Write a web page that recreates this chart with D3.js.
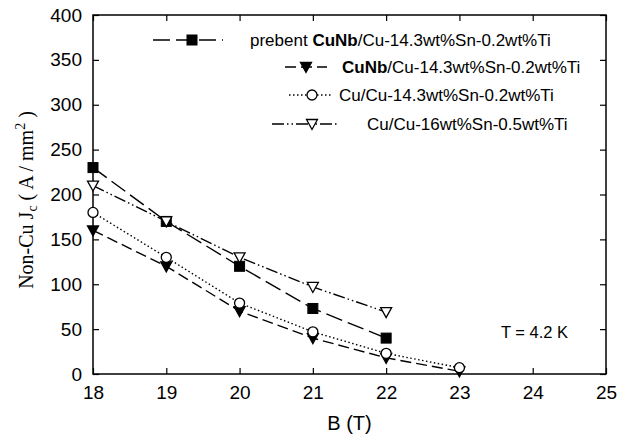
<!DOCTYPE html>
<html>
<head>
<meta charset="utf-8">
<script src="https://cdn.jsdelivr.net/npm/d3@7/dist/d3.min.js"></script>
<style>
  body { margin: 0; background: #fff; }
  text { font-family: Arial, "Liberation Sans", sans-serif; }
</style>
</head>
<body>
<div id="chart"></div>
<script>
var xTicks = [18, 19, 20, 21, 22, 23, 24, 25];
var yTicks = [0, 50, 100, 150, 200, 250, 300, 350, 400];

var prebentB  = [18, 19, 20, 21, 22];
var prebentJc = [230, 170, 120, 73, 40];

var cunbB  = [18, 19, 20, 21, 22, 23];
var cunbJc = [160, 120, 70, 40, 18, 3];

var cuB  = [18, 19, 20, 21, 22, 23];
var cuJc = [180, 130, 79, 47, 23, 7];

var cu16B  = [18, 19, 20, 21, 22];
var cu16Jc = [210, 170, 130, 97, 69];

var width = 620, height = 436;
var margin = {left: 93, right: 14, top: 15, bottom: 62};
var font = 'Arial, "Liberation Sans", sans-serif';

var svg = d3.select('#chart').append('svg')
    .attr('width', width)
    .attr('height', height);

var x = d3.scaleLinear().domain([18, 25]).range([margin.left, width - margin.right]);
var y = d3.scaleLinear().domain([0, 400]).range([height - margin.bottom, margin.top]);

// frame
svg.append('rect')
  .attr('x', x(18)).attr('y', y(400))
  .attr('width', x(25) - x(18)).attr('height', y(0) - y(400))
  .attr('fill', 'none').attr('stroke', '#000').attr('stroke-width', 1.5);

// axes, ticks pointing inward
svg.append('g')
  .attr('transform', 'translate(0,' + y(0) + ')')
  .call(d3.axisBottom(x).tickValues(xTicks).tickSize(-6).tickPadding(11.5).tickFormat(d3.format('d')))
  .call(function(g) {
    g.select('.domain').remove();
    g.selectAll('line').attr('stroke-width', 1.2);
    g.selectAll('text').attr('font-size', 19).attr('font-family', font);
  });

svg.append('g')
  .attr('transform', 'translate(0,' + y(400) + ')')
  .call(d3.axisTop(x).tickValues(xTicks).tickSize(-6).tickFormat(''))
  .call(function(g) { g.select('.domain').remove(); g.selectAll('line').attr('stroke-width', 1.2); });

svg.append('g')
  .attr('transform', 'translate(' + x(18) + ',0)')
  .call(d3.axisLeft(y).tickValues(yTicks).tickSize(-6).tickPadding(11))
  .call(function(g) {
    g.select('.domain').remove();
    g.selectAll('line').attr('stroke-width', 1.2);
    g.selectAll('text').attr('font-size', 19).attr('font-family', font);
  });

svg.append('g')
  .attr('transform', 'translate(' + x(25) + ',0)')
  .call(d3.axisRight(y).tickValues(yTicks).tickSize(-6).tickFormat(''))
  .call(function(g) { g.select('.domain').remove(); g.selectAll('line').attr('stroke-width', 1.2); });

// axis titles
svg.append('text')
  .attr('x', (x(18) + x(25)) / 2).attr('y', 430)
  .attr('text-anchor', 'middle').attr('font-size', 20)
  .text('B (T)');

var yl = svg.append('text')
  .attr('transform', 'translate(33,200) rotate(-90)')
  .attr('text-anchor', 'middle')
  .attr('font-size', 20)
  .style('font-family', '"Liberation Serif", "Times New Roman", serif');
yl.append('tspan').text('Non-Cu J');
yl.append('tspan').attr('font-size', 14).attr('dy', 4).text('c');
yl.append('tspan').attr('dy', -4).text(' ( A / mm');
yl.append('tspan').attr('font-size', 14).attr('dy', -8).text('2');
yl.append('tspan').attr('dy', 8).text(' )');

svg.append('text')
  .attr('x', 568).attr('y', 338)
  .attr('text-anchor', 'end').attr('font-size', 16.5)
  .text('T = 4.2 K');

var series = [
  {b: prebentB, jc: prebentJc, dash: '17,6', marker: 'square', fill: '#000'},
  {b: cunbB, jc: cunbJc, dash: '11,5', marker: 'tri', fill: '#000'},
  {b: cuB, jc: cuJc, dash: '1.5,2.5', marker: 'circle', fill: '#fff'},
  {b: cu16B, jc: cu16Jc, dash: '12,3,1.5,3,1.5,3', marker: 'tri', fill: '#fff'}
];

var line = d3.line().x(function(d) { return x(d[0]); }).y(function(d) { return y(d[1]); });

function drawMarker(g, type, fill, cx, cy) {
  if (type === 'square') {
    g.append('rect').attr('x', cx - 5).attr('y', cy - 5).attr('width', 10).attr('height', 10)
      .attr('fill', fill).attr('stroke', '#000').attr('stroke-width', 1);
  } else if (type === 'circle') {
    g.append('circle').attr('cx', cx).attr('cy', cy).attr('r', 5)
      .attr('fill', fill).attr('stroke', '#000').attr('stroke-width', 1.3);
  } else {
    g.append('path')
      .attr('d', 'M' + (cx - 5.5) + ',' + (cy - 4.5) + 'L' + (cx + 5.5) + ',' + (cy - 4.5) + 'L' + cx + ',' + (cy + 5.5) + 'Z')
      .attr('fill', fill).attr('stroke', '#000').attr('stroke-width', 1.3);
  }
}

series.forEach(function(s) {
  var pts = s.b.map(function(b, i) { return [b, s.jc[i]]; });
  svg.append('path')
    .datum(pts)
    .attr('d', line)
    .attr('fill', 'none').attr('stroke', '#000').attr('stroke-width', 1.4)
    .attr('stroke-dasharray', s.dash);
  var g = svg.append('g');
  pts.forEach(function(p) { drawMarker(g, s.marker, s.fill, x(p[0]), y(p[1])); });
});

// legend
var legend = [
  {x1: 153, x2: 223, mx: 192, y: 40, tx: 250, pre: 'prebent ', bold: 'CuNb', rest: '/Cu-14.3wt%Sn-0.2wt%Ti'},
  {x1: 285, x2: 327, mx: 306, y: 67, tx: 342, pre: '', bold: 'CuNb', rest: '/Cu-14.3wt%Sn-0.2wt%Ti'},
  {x1: 289, x2: 333, mx: 312, y: 95, tx: 339, pre: '', bold: '', rest: 'Cu/Cu-14.3wt%Sn-0.2wt%Ti'},
  {x1: 272, x2: 338, mx: 312, y: 124, tx: 367, pre: '', bold: '', rest: 'Cu/Cu-16wt%Sn-0.5wt%Ti'}
];

legend.forEach(function(l, i) {
  var s = series[i];
  svg.append('line')
    .attr('x1', l.x1).attr('x2', l.x2).attr('y1', l.y).attr('y2', l.y)
    .attr('stroke', '#000').attr('stroke-width', 1.4)
    .attr('stroke-dasharray', s.dash);
  drawMarker(svg, s.marker, s.fill, l.mx, l.y);
  var t = svg.append('text')
    .attr('x', l.tx).attr('y', l.y + 6)
    .attr('font-size', 17);
  if (l.pre) t.append('tspan').text(l.pre);
  if (l.bold) t.append('tspan').attr('font-weight', 'bold').text(l.bold);
  t.append('tspan').text(l.rest);
});
</script>
</body>
</html>
